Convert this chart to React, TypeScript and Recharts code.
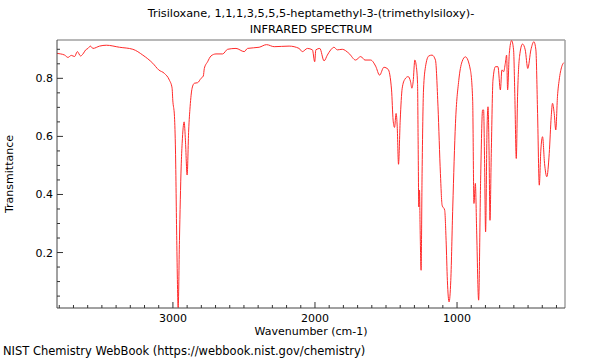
import React from "react";
import { LineChart, Line, XAxis, YAxis, ReferenceLine } from "recharts";

// wavenumber (cm-1), ordered as drawn from left to right
const wavenumbers = [
  3816, 3790, 3762, 3739, 3715, 3692, 3673, 3650, 3633, 3614, 3598, 3581, 3563, 3516, 3469, 3376,
  3282, 3212, 3142, 3100, 3060, 3025, 3006, 3001, 2989, 2982, 2973, 2963, 2954, 2942, 2935, 2921,
  2912, 2900, 2889, 2879, 2865, 2849, 2826, 2802, 2786, 2779, 2756, 2732, 2697, 2650, 2615, 2556,
  2498, 2475, 2393, 2341, 2287, 2182, 2112, 2089, 2053, 2018, 2002, 1994, 1966, 1936, 1913, 1889,
  1866, 1843, 1808, 1761, 1714, 1678, 1648, 1608, 1573, 1545, 1515, 1485, 1461, 1450, 1440, 1429,
  1421, 1412, 1400, 1386, 1367, 1344, 1327, 1318, 1309, 1297, 1288, 1278, 1274, 1269, 1264, 1260,
  1253, 1246, 1236, 1222, 1199, 1176, 1152, 1134, 1117, 1105, 1087, 1077, 1068, 1056, 1044, 1030,
  1011, 988, 965, 941, 906, 890, 881, 871, 862, 848, 834, 820, 813, 806, 799, 789,
  782, 775, 768, 759, 747, 730, 712, 695, 684, 672, 660, 651, 644, 632, 616, 602,
  593, 583, 574, 560, 539, 520, 502, 480, 459, 445, 433, 421, 410, 398, 384, 368,
  351, 337, 328, 316, 305, 293, 281, 263, 249,
];

const transmittance = [
  0.886, 0.884, 0.88, 0.872, 0.879, 0.875, 0.892, 0.877, 0.884, 0.898, 0.903, 0.911, 0.903, 0.911, 0.914, 0.907,
  0.9, 0.88, 0.852, 0.829, 0.817, 0.794, 0.767, 0.725, 0.668, 0.553, 0.242, 0.01, 0.242, 0.495, 0.576, 0.65,
  0.587, 0.467, 0.622, 0.702, 0.766, 0.783, 0.785, 0.8, 0.808, 0.834, 0.857, 0.877, 0.884, 0.884, 0.9, 0.903,
  0.892, 0.903, 0.907, 0.916, 0.909, 0.911, 0.903, 0.892, 0.903, 0.898, 0.857, 0.898, 0.903, 0.86, 0.88, 0.898,
  0.907, 0.898, 0.9, 0.886, 0.863, 0.875, 0.863, 0.863, 0.842, 0.811, 0.838, 0.831, 0.76, 0.656, 0.631, 0.679,
  0.633, 0.504, 0.656, 0.766, 0.797, 0.806, 0.788, 0.766, 0.788, 0.863, 0.846, 0.783, 0.587, 0.357, 0.415, 0.288,
  0.139, 0.472, 0.76, 0.84, 0.877, 0.88, 0.863, 0.702, 0.472, 0.363, 0.346, 0.242, 0.104, 0.03, 0.104, 0.357,
  0.645, 0.792, 0.857, 0.874, 0.829, 0.725, 0.369, 0.438, 0.277, 0.036, 0.449, 0.691, 0.691, 0.507, 0.271, 0.622,
  0.702, 0.564, 0.311, 0.541, 0.794, 0.84, 0.84, 0.76, 0.829, 0.823, 0.852, 0.88, 0.76, 0.886, 0.93, 0.898,
  0.737, 0.524, 0.737, 0.875, 0.918, 0.898, 0.834, 0.898, 0.926, 0.898, 0.679, 0.432, 0.553, 0.599, 0.507, 0.461,
  0.541, 0.668, 0.714, 0.679, 0.622, 0.737, 0.794, 0.84, 0.854,
];

const xTicks = [
  300, 400, 500, 600, 700, 800, 900, 1000, 1100, 1200, 1300, 1400, 1500, 1600, 1700, 1800, 1900, 2000,
  2100, 2200, 2300, 2400, 2500, 2600, 2700, 2800, 2900, 3000, 3100, 3200, 3300, 3400, 3500, 3600, 3700, 3800,
];
const xLabels = [1000, 2000, 3000];
const yTicks = [
  0.05, 0.1, 0.15, 0.2, 0.25, 0.3, 0.35, 0.4, 0.45, 0.5, 0.55, 0.6, 0.65, 0.7, 0.75, 0.8, 0.85, 0.9,
];
const yLabels = [0.2, 0.4, 0.6, 0.8];

const data = wavenumbers.map((w, i) => ({ w, t: transmittance[i] }));

const font = "'DejaVu Sans', sans-serif";

const XTick = (props: any) => {
  const { x, y, payload } = props;
  const major = xLabels.includes(payload.value);
  return (
    <g>
      <line x1={x} x2={x} y1={y} y2={y - (major ? 6 : 3)} stroke="#333" />
      {major && (
        <text x={x} y={y + 14} textAnchor="middle" fontSize={11} fontFamily={font} fill="#000">
          {payload.value}
        </text>
      )}
    </g>
  );
};

const YTick = (props: any) => {
  const { x, y, payload } = props;
  const major = yLabels.includes(payload.value);
  return (
    <g>
      <line x1={x} x2={x + (major ? 6 : 3)} y1={y} y2={y} stroke="#333" />
      {major && (
        <text x={x - 4} y={y + 4} textAnchor="end" fontSize={11} fontFamily={font} fill="#000">
          {payload.value.toFixed(1)}
        </text>
      )}
    </g>
  );
};

export default function App() {
  return (
    <div style={{ position: "absolute", left: 0, top: 0, width: 600, height: 360, background: "#fff", fontFamily: font, color: "#000" }}>
      <div style={{ position: "absolute", left: 0, width: 622, top: 6, textAlign: "center", fontSize: 11.3, lineHeight: "16px" }}>
        Trisiloxane, 1,1,1,3,5,5,5-heptamethyl-3-(trimethylsiloxy)-
        <br />
        INFRARED SPECTRUM
      </div>
      <LineChart width={600} height={360} data={data} margin={{ top: 40, right: 35, bottom: 22, left: 0 }}>
        <XAxis
          dataKey="w"
          type="number"
          reversed
          domain={[240, 3816]}
          allowDataOverflow
          ticks={xTicks}
          interval={0}
          height={30}
          tickSize={0}
          tickMargin={0}
          tickLine={false}
          axisLine={{ stroke: "#444" }}
          tick={<XTick />}
        />
        <YAxis
          type="number"
          domain={[0.009, 0.932]}
          allowDataOverflow
          ticks={yTicks}
          interval={0}
          width={57}
          tickSize={0}
          tickMargin={0}
          tickLine={false}
          axisLine={{ stroke: "#444" }}
          tick={<YTick />}
        />
        <ReferenceLine y={0.932} stroke="#a0a0a0" strokeWidth={1.5} />
        <ReferenceLine x={240} stroke="#a0a0a0" strokeWidth={1.5} />
        <Line type="monotone" dataKey="t" stroke="#ff2a2a" strokeWidth={1} dot={false} isAnimationActive={false} />
      </LineChart>
      <div style={{ position: "absolute", left: 0, width: 622, top: 326, textAlign: "center", fontSize: 11, lineHeight: "12px" }}>
        Wavenumber (cm-1)
      </div>
      <div style={{ position: "absolute", left: 10, top: 174, transform: "translate(-50%, -50%) rotate(-90deg)", fontSize: 11, lineHeight: "12px", whiteSpace: "nowrap" }}>
        Transmittance
      </div>
      <div style={{ position: "absolute", left: 3, top: 345, fontSize: 11.5, lineHeight: "13px", whiteSpace: "nowrap" }}>
        NIST Chemistry WebBook (https://webbook.nist.gov/chemistry)
      </div>
    </div>
  );
}
